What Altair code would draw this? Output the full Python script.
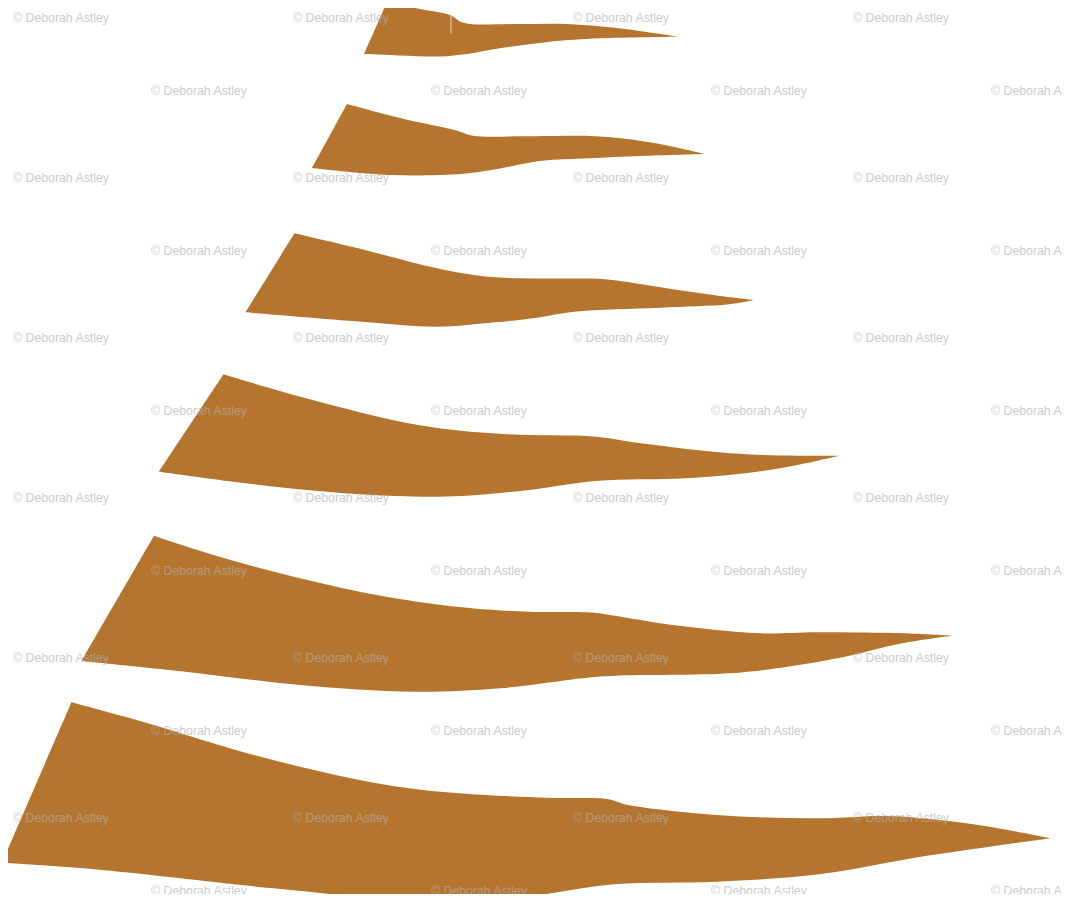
import altair as alt
import pandas as pd

# branch shapes in page pixels (x right, y down)
# each shape: top edge left->right, bottom edge right->left
S1_TOP = [(387, 2), (420, 9), (450, 15), (460, 21.5), (470, 24), (520, 24), (567, 24), (617, 28), (678, 36.7)]
S1_BOTTOM = [(678, 36.7), (600, 38.3), (550, 41.7), (500, 48.3), (467, 54), (440, 56.5), (400, 55.5), (364, 54)]

S2_TOP = [(347, 104), (400, 118), (457, 130.7), (473, 135.7), (523, 136.3), (590, 136), (623, 138.5), (657, 143.5), (705, 154)]
S2_BOTTOM = [(705, 154), (640, 156), (590, 158.3), (540, 161), (497, 169), (463, 173.7), (390, 175), (312, 168)]

S3_TOP = [(294.5, 233.3), (365, 250), (437, 268.3), (488, 276.7), (540, 278.5), (602, 279), (640, 284),
          (678, 290), (720, 296), (754, 300)]
S3_BOTTOM = [(754, 300), (729, 304.3), (660, 307.7), (574, 311.7), (535, 318), (495, 322.3), (437, 326.7),
             (368, 322.3), (245.5, 312.3)]

S4_TOP = [(223.5, 374.3), (306, 398.3), (418, 425), (507, 434.3), (596, 436.7), (641, 443.3), (730, 453.3),
          (797, 455.7), (839.5, 455.7)]
S4_BOTTOM = [(839.5, 455.7), (797, 465), (753, 472.3), (686, 478.3), (596, 481), (529, 490), (462, 496),
             (395, 496), (284, 487.7), (159, 471.7)]

S5_TOP = [(154, 535.7), (213.5, 555), (300, 578.3), (386, 596.7), (472, 608.3), (529, 611.7), (587, 612.3),
          (600, 613.5), (610, 615), (673, 625), (759, 633.3), (816, 632.3), (902, 633.3), (952, 635.7)]
S5_BOTTOM = [(952, 635.7), (902, 643.3), (845, 656.7), (787.5, 666.7), (730, 673.3), (615, 675.7), (587, 677.7),
             (500, 688.3), (414, 691.7), (300, 685), (185, 671.7), (81.5, 661)]

S6_TOP = [(71.5, 702.3), (136.5, 720), (273, 760), (409, 788.3), (546, 797.7), (600, 798.3), (612, 800),
          (618, 802), (628, 805), (716.5, 815), (819, 818.3), (887, 816), (940, 820), (989.5, 826.7), (1051, 838.3)]
S6_BOTTOM = [(1051, 838.3), (989.5, 846.7), (921, 856.7), (819, 874.3), (716.5, 881.7), (614, 884.3),
             (512, 898.3), (409, 900), (273, 888.3), (102, 870), (2, 862.7)]

# little pale scratch on the top branch
SCRATCH_X = [451]
SCRATCH_Y = [15]
SCRATCH_Y2 = [34]

# watermark grid
WM_TEXT = "© Deborah Astley"
ROW_A_X = [61, 341, 621, 901]
ROW_A_Y = [18, 178, 338, 498, 658, 818]
ROW_B_X = [199, 479, 759, 1039]
ROW_B_Y = [91, 251, 411, 571, 731, 891]

BROWN = "#b5752f"

tops = [S1_TOP, S2_TOP, S3_TOP, S4_TOP, S5_TOP, S6_TOP]
bottoms = [S1_BOTTOM, S2_BOTTOM, S3_BOTTOM, S4_BOTTOM, S5_BOTTOM, S6_BOTTOM]

rows = []
for i, (top, bottom) in enumerate(zip(tops, bottoms)):
    # corners are doubled so the smooth curve keeps them sharp
    pts = [top[0]] + top + bottom + [bottom[-1], top[0], top[0]]
    for k, (x, y) in enumerate(pts):
        rows.append({"shape": i, "k": k, "x": x, "y": y})
shape_df = pd.DataFrame(rows)

wm_rows = []
for y in ROW_A_Y:
    for x in ROW_A_X:
        wm_rows.append({"x": x, "y": y, "label": WM_TEXT})
for y in ROW_B_Y:
    for x in ROW_B_X:
        wm_rows.append({"x": x, "y": y, "label": WM_TEXT})
wm_df = pd.DataFrame(wm_rows)

scratch_df = pd.DataFrame({"x": SCRATCH_X, "y": SCRATCH_Y, "y2": SCRATCH_Y2})

# page has an 8px margin, so the plot area starts at page pixel 8
xs = alt.Scale(domain=[8, 1062], nice=False, zero=False)
ys = alt.Scale(domain=[8, 894], nice=False, zero=False, reverse=True)

branches = alt.Chart(shape_df).mark_line(filled=True, color=BROWN, interpolate="catmull-rom", clip=True).encode(
    x=alt.X("x:Q", scale=xs, axis=None),
    y=alt.Y("y:Q", scale=ys, axis=None),
    detail="shape:N",
    order="k:Q"
)

scratch = alt.Chart(scratch_df).mark_rule(color="#e9cfa8", strokeWidth=1, clip=True).encode(
    x=alt.X("x:Q", scale=xs, axis=None),
    y=alt.Y("y:Q", scale=ys, axis=None),
    y2="y2:Q"
)

watermark = alt.Chart(wm_df).mark_text(
    font="Liberation Sans",
    fontSize=12.3,
    color="#b0b0b0",
    opacity=0.65,
    align="center",
    baseline="middle",
    clip=True
).encode(
    x=alt.X("x:Q", scale=xs, axis=None),
    y=alt.Y("y:Q", scale=ys, axis=None),
    text="label:N"
)

chart = (branches + scratch + watermark).properties(
    width=1054,
    height=886,
    padding=0,
    background="white"
).configure_view(strokeWidth=0)

chart.save("out.html", embed_options={"renderer": "svg", "actions": False})
